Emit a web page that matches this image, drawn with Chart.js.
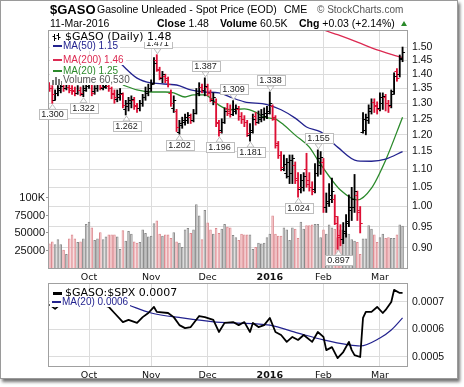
<!DOCTYPE html>
<html>
<head>
<meta charset="utf-8">
<script src="https://cdn.jsdelivr.net/npm/chart.js"></script>
<style>
body { margin: 0; background: #fff; }
#wrap { position: relative; width: 464px; height: 387px; overflow: hidden; background: #fff;
        font-family: "Liberation Sans", Arial, sans-serif; color: #000; }
#frame { position: absolute; left: 0; top: 0; width: 456px; height: 377px; border: 1px solid #9a9a9a;
         box-shadow: 2px 3px 3px rgba(0,0,0,.55); background: #fff; }
canvas { position: absolute; left: 0; }
.t { position: absolute; white-space: nowrap; line-height: 1; }
.lg { position: absolute; left: 50px; background: #fff; white-space: nowrap; padding-right: 2px; }
.dash { position: absolute; left: 3px; width: 9px; }
</style>
</head>
<body>
<div id="wrap">
  <div id="frame"></div>
  <canvas id="main" width="464" height="283" style="top:0"></canvas>
  <canvas id="ratio" width="464" height="117" style="top:270px"></canvas>

  <span class="t" style="left:50px;top:3.3px;font-weight:bold;font-size:13px">$GASO</span>
  <span class="t" style="left:97px;top:4.4px;font-size:10.5px">Gasoline Unleaded - Spot Price (EOD)</span>
  <span class="t" style="left:284px;top:4.4px;font-size:10.5px">CME</span>
  <span class="t" style="left:317px;top:4.8px;font-size:10px;color:#555">© StockCharts.com</span>

  <span class="t" style="left:50px;top:17.8px;font-size:10.5px">11-Mar-2016</span>
  <span class="t" style="left:157px;top:17.8px;font-size:10.5px"><b>Close</b> 1.48</span>
  <span class="t" style="left:220px;top:17.8px;font-size:10.5px"><b>Volume</b> 60.5K</span>
  <span class="t" style="left:299px;top:17.8px;font-size:10.5px"><b>Chg</b> +0.03 (+2.14%)</span>
  <div style="position:absolute;left:401px;top:21px;width:0;height:0;border-left:3px solid transparent;border-right:3px solid transparent;border-bottom:5px solid #2a8a2a"></div>

  <div class="lg" style="top:31.5px;height:10px;line-height:10px;font-family:'DejaVu Sans';font-size:11px;padding-left:15px">
    <svg style="position:absolute;left:2px;top:1px" width="9" height="9"><path d="M2.5 1v7M0.5 3.5h2M2.5 5.5h2M6.5 0v7M4.5 2.5h2M6.5 4.5h2" stroke="#000" stroke-width="1" fill="none"/></svg>$GASO (Daily) 1.48</div>
  <div class="lg" style="top:40.5px;height:10px;line-height:10px;font-size:10px;padding-left:13px;color:#23238f">
    <span class="dash" style="top:4px;height:2px;background:#23238f"></span>MA(50) 1.15</div>
  <div class="lg" style="top:54.8px;height:10px;line-height:10px;font-size:10px;padding-left:13px;color:#dc2a52">
    <span class="dash" style="top:4px;height:2px;background:#dc2a52"></span>MA(200) 1.46</div>
  <div class="lg" style="top:65.5px;height:10px;line-height:10px;font-size:10px;padding-left:13px;color:#2b8a2b">
    <span class="dash" style="top:4px;height:2px;background:#2b8a2b"></span>MA(20) 1.25</div>
  <div class="lg" style="top:74.8px;height:10px;line-height:10px;font-size:10px;padding-left:13px;color:#555">
    <svg style="position:absolute;left:2px;top:1px" width="10" height="9"><rect x="0" y="4" width="2" height="5" fill="#777"/><rect x="3" y="1" width="2" height="8" fill="#777"/><rect x="6" y="3" width="2" height="6" fill="#777"/><rect x="9" y="5" width="1" height="4" fill="#777"/></svg>Volume 60,530</div>

  <div class="lg" style="top:288px;height:10px;line-height:10px;font-family:'DejaVu Sans';font-size:11px;padding-left:15px">
    <span class="dash" style="top:4px;height:3px;background:#000"></span>$GASO:$SPX 0.0007</div>
  <div class="lg" style="top:296.5px;height:10px;line-height:10px;font-size:10px;padding-left:12px;color:#23238f">
    <span class="dash" style="left:2px;top:4px;height:2px;background:#23238f"></span>MA(20) 0.0006</div>
</div>

<script>
// time axis: trading days 11-Sep-2015 .. 11-Mar-2016, index 0..125
var monthStarts = [14, 36, 56, 78, 97, 117];
var monthLabels = ['Oct', 'Nov', 'Dec', '2016', 'Feb', 'Mar'];
var priceTicks = [0.90, 0.95, 1.00, 1.05, 1.10, 1.15, 1.20, 1.25, 1.30, 1.35, 1.40, 1.45, 1.50];
var volumeTicks = [25000, 50000, 75000, 100000];
var ratioTicks = [0.0005, 0.0006, 0.0007];

var prevClose = 1.365;
var opens = [
  1.36,1.35,1.31,1.335,1.345,1.365,1.35,1.355,1.35,1.345,
  1.335,1.345,1.33,1.345,1.36,1.365,1.34,1.35,1.365,1.35,
  1.355,1.36,1.35,1.33,1.315,1.32,1.33,1.28,1.29,1.30,
  1.31,1.29,1.285,1.30,1.32,1.335,1.35,1.37,1.45,1.415,
  1.385,1.395,1.38,1.335,1.285,1.275,1.21,1.23,1.24,1.245,
  1.255,1.245,1.27,1.335,1.355,1.345,1.355,1.335,1.31,1.305,
  1.235,1.215,1.24,1.285,1.275,1.265,1.275,1.28,1.26,1.25,
  1.24,1.20,1.21,1.26,1.24,1.25,1.255,1.26,1.27,1.29,
  1.25,1.17,1.14,1.10,1.09,1.08,1.09,1.11,1.07,1.045,
  1.05,1.10,1.07,1.05,1.045,1.09,1.11,1.12,1.00,1.01,
  1.02,1.02,0.96,0.93,0.92,0.935,0.96,0.99,1.00,1.03,
  0.985,1.21,1.215,1.245,1.275,1.305,1.295,1.285,1.30,1.32,
  1.30,1.295,1.34,1.41,1.40,1.455];
var highs = [
  1.37,1.36,1.345,1.36,1.37,1.375,1.37,1.365,1.36,1.355,
  1.36,1.355,1.36,1.375,1.385,1.37,1.36,1.375,1.375,1.37,
  1.375,1.37,1.355,1.345,1.345,1.35,1.335,1.31,1.32,1.325,
  1.32,1.30,1.31,1.33,1.355,1.365,1.38,1.46,1.471,1.425,
  1.41,1.40,1.39,1.345,1.325,1.28,1.245,1.255,1.265,1.27,
  1.265,1.28,1.35,1.37,1.365,1.387,1.365,1.345,1.335,1.315,
  1.245,1.25,1.285,1.30,1.295,1.309,1.295,1.29,1.27,1.26,
  1.245,1.235,1.265,1.27,1.275,1.28,1.285,1.29,1.338,1.295,
  1.26,1.18,1.15,1.14,1.13,1.14,1.14,1.12,1.09,1.085,
  1.09,1.145,1.09,1.065,1.115,1.155,1.15,1.13,1.035,1.06,
  1.075,1.03,0.975,0.955,0.96,0.98,1.03,1.05,1.085,1.04,
  1.00,1.27,1.265,1.295,1.315,1.315,1.305,1.335,1.335,1.33,
  1.31,1.345,1.405,1.42,1.47,1.50];
var lows = [
  1.34,1.30,1.31,1.325,1.335,1.34,1.345,1.335,1.33,1.325,
  1.33,1.325,1.322,1.34,1.35,1.325,1.33,1.34,1.345,1.345,
  1.35,1.34,1.315,1.30,1.305,1.31,1.285,1.262,1.275,1.285,
  1.28,1.27,1.275,1.29,1.31,1.325,1.34,1.365,1.41,1.38,
  1.37,1.37,1.355,1.29,1.27,1.21,1.202,1.22,1.23,1.235,
  1.235,1.24,1.265,1.325,1.335,1.325,1.325,1.305,1.295,1.225,
  1.196,1.205,1.235,1.26,1.255,1.26,1.265,1.245,1.235,1.225,
  1.195,1.181,1.205,1.23,1.235,1.24,1.245,1.25,1.265,1.245,
  1.16,1.13,1.095,1.095,1.075,1.06,1.06,1.06,1.024,1.035,
  1.04,1.05,1.04,1.03,1.035,1.08,1.085,0.985,0.985,1.00,
  1.01,0.955,0.897,0.905,0.91,0.925,0.95,0.965,0.985,0.965,
  0.935,1.205,1.20,1.235,1.265,1.27,1.265,1.275,1.28,1.275,
  1.27,1.285,1.33,1.375,1.39,1.445];
var closes = [
  1.35,1.33,1.335,1.35,1.36,1.35,1.355,1.345,1.34,1.335,
  1.345,1.335,1.35,1.365,1.37,1.335,1.35,1.365,1.355,1.36,
  1.365,1.35,1.335,1.32,1.33,1.335,1.295,1.30,1.31,1.315,
  1.295,1.285,1.30,1.32,1.34,1.35,1.365,1.44,1.42,1.39,
  1.40,1.385,1.365,1.30,1.31,1.225,1.235,1.245,1.255,1.262,
  1.245,1.27,1.335,1.355,1.345,1.36,1.335,1.315,1.32,1.24,
  1.21,1.24,1.275,1.27,1.265,1.28,1.285,1.26,1.25,1.24,
  1.205,1.215,1.25,1.24,1.255,1.265,1.27,1.275,1.30,1.255,
  1.175,1.14,1.105,1.115,1.12,1.125,1.13,1.075,1.05,1.07,
  1.08,1.06,1.05,1.04,1.09,1.13,1.135,1.00,1.015,1.03,
  1.04,0.975,0.925,0.92,0.94,0.965,1.00,1.02,1.04,0.99,
  0.96,1.25,1.255,1.285,1.305,1.29,1.28,1.32,1.325,1.30,
  1.29,1.33,1.395,1.385,1.46,1.48];
var volumes = [
  35000,38000,34000,41000,34000,26000,20000,42000,48000,42000,
  37000,38000,42000,63000,66000,58000,40000,42000,51000,41000,
  45000,48000,48000,48000,45000,27000,54000,39000,53000,49000,
  38000,36000,37000,55000,50000,45000,46000,64000,68000,49000,
  46000,48000,48000,43000,51000,38000,36000,30000,55000,57000,
  50000,55000,91000,75000,41000,83000,65000,55000,49000,57000,
  50000,56000,63000,59000,58000,47000,44000,40000,49000,48000,
  48000,48000,27000,30000,36000,35000,36000,44000,49000,75000,
  49000,46000,46000,58000,55000,40000,58000,56000,43000,66000,
  56000,61000,61000,62000,63000,63000,44000,55000,49000,62000,
  58000,56000,44000,55000,55000,50000,49000,41000,39000,37000,
  20000,42000,42000,61000,56000,48000,37000,44000,49000,43000,
  44000,43000,43000,48000,62000,60530];

// moving averages (day index, value)
var ma50Days = [25,31,36,45,50,55,60,64,69,77,82,87,91,96,102,109,114,119,125];
var ma50Values = [1.440,1.386,1.369,1.362,1.345,1.338,1.335,1.321,1.305,1.296,1.279,1.252,1.224,1.209,1.163,1.123,1.122,1.128,1.150];
var ma200Days = [88,93,97,102,109,116,121,125];
var ma200Values = [1.63,1.60,1.568,1.548,1.519,1.489,1.472,1.46];
var ma20Days = [26,31,36,41,44,48,51,55,57,60,64,69,73,76,80,83,87,92,95,99,103,109,114,119,125];
var ma20Values = [1.362,1.345,1.338,1.338,1.335,1.321,1.328,1.328,1.318,1.294,1.279,1.282,1.271,1.255,1.249,1.230,1.199,1.163,1.125,1.080,1.043,1.017,1.048,1.125,1.255];

// $GASO:$SPX ratio panel
var ratioDays = [0,2,4,10,16,21,23,26,28,31,33,35,37,38,42,44,46,48,50,53,55,58,60,62,65,67,69,71,72,74,76,78,80,82,84,86,88,90,93,95,97,98,100,102,104,106,107,108,110,111,112,114,116,118,119,121,122,124,125];
var ratioValues = [0.000691,0.000675,0.000693,0.00071,0.0007,0.000682,0.00066,0.000627,0.000635,0.000624,0.000645,0.00066,0.000682,0.000664,0.00066,0.000645,0.000616,0.000605,0.000609,0.000649,0.000645,0.000635,0.000591,0.000624,0.000627,0.000616,0.000627,0.000591,0.000624,0.000609,0.000616,0.000642,0.000591,0.00058,0.000555,0.000573,0.000562,0.00058,0.000555,0.000591,0.000573,0.000525,0.000536,0.000496,0.000518,0.000555,0.000525,0.000507,0.0005,0.000642,0.000664,0.000664,0.000682,0.00066,0.000671,0.0007,0.000744,0.000733,0.000733];
var ratioMaDays = [28,36,47,59,65,78,88,97,106,110,117,121,125];
var ratioMaValues = [0.000689,0.00066,0.000642,0.000627,0.000624,0.000616,0.000587,0.000562,0.000544,0.00054,0.000569,0.000598,0.000642];

// swing high / low labels
var labelDays = [1,12,27,38,46,55,60,65,71,78,88,95,102];
var labelSides = ['low','low','low','high','low','high','low','high','low','high','low','high','low'];

var days = closes.map(function(c, i) { return i; });
var isDown = closes.map(function(c, i) { return c < (i ? closes[i - 1] : prevClose); });
var barColor = isDown.map(function(d) { return d ? '#dd1035' : '#000000'; });
var volFill = isDown.map(function(d) { return d ? '#f3b7bb' : '#b7b7b7'; });
var volEdge = isDown.map(function(d) { return d ? '#dc8a90' : '#8a8a8a'; });

function pts(xs, ys) {
  return xs.map(function(x, k) { return {x: x, y: ys[k]}; });
}

var gridColor = '#dcdcdc';
var xAxisFont = function(c) {
  return {family: 'DejaVu Sans', size: 9.5, weight: (c.tick && c.tick.value === 78) ? 'bold' : 'normal'};
};
function xAxis(h) {
  return {
    type: 'linear', min: -0.16, max: 126.57, offset: false, bounds: 'data',
    afterBuildTicks: function(s) { s.ticks = monthStarts.map(function(v) { return {value: v}; }); },
    afterFit: function(s) { s.height = h; s.paddingLeft = 0; s.paddingRight = 0; },
    grid: {color: gridColor, drawTicks: false, offset: false},
    border: {display: false},
    ticks: {autoSkip: false, maxRotation: 0, padding: 4, color: '#111', font: xAxisFont,
      callback: function(v) { return monthLabels[monthStarts.indexOf(v)]; }}
  };
}

var framePlugin = {
  id: 'frame',
  afterDatasetsDraw: function(chart) {
    var a = chart.chartArea, ctx = chart.ctx;
    ctx.save();
    ctx.strokeStyle = '#a0a0a0';
    ctx.lineWidth = 1;
    ctx.strokeRect(Math.round(a.left) - 0.5, Math.round(a.top) - 0.5, Math.round(a.width) + 1, Math.round(a.height) + 1);
    ctx.restore();
  }
};

// open tick to the left, close tick to the right
var ohlcTicks = {
  id: 'ohlcTicks',
  afterDatasetsDraw: function(chart) {
    var a = chart.chartArea, ctx = chart.ctx, x = chart.scales.x, y = chart.scales.y;
    ctx.save();
    ctx.beginPath(); ctx.rect(a.left, a.top, a.width, a.height); ctx.clip();
    ctx.lineWidth = 1;
    days.forEach(function(i) {
      var px = x.getPixelForValue(i);
      var yo = Math.round(y.getPixelForValue(opens[i])) + 0.5;
      var yc = Math.round(y.getPixelForValue(closes[i])) + 0.5;
      ctx.strokeStyle = barColor[i];
      ctx.beginPath();
      ctx.moveTo(px - 2.5, yo); ctx.lineTo(px, yo);
      ctx.moveTo(px, yc); ctx.lineTo(px + 2.5, yc);
      ctx.stroke();
    });
    ctx.restore();
  }
};

var priceLabels = {
  id: 'priceLabels',
  afterDatasetsDraw: function(chart) {
    var ctx = chart.ctx, x = chart.scales.x, y = chart.scales.y;
    ctx.save();
    ctx.font = '9px "Liberation Sans", Arial';
    ctx.textAlign = 'center';
    ctx.textBaseline = 'middle';
    labelDays.forEach(function(i, k) {
      var low = labelSides[k] === 'low';
      var v = low ? lows[i] : highs[i];
      var txt = v.toFixed(3);
      var w = Math.round(ctx.measureText(txt).width) + 5, h = 10;
      var px = Math.round(x.getPixelForValue(i)) + 0.5;
      var py = y.getPixelForValue(v);
      var tip = low ? py + 1 : py - 1;
      var base = low ? tip + 5 : tip - 5;
      var top = low ? Math.round(base) + 0.5 : Math.round(base - h) - 0.5;
      ctx.fillStyle = '#fff';
      ctx.strokeStyle = '#bdbdbd';
      ctx.beginPath();
      ctx.moveTo(px - 3.5, base); ctx.lineTo(px, tip); ctx.lineTo(px + 3.5, base);
      ctx.closePath(); ctx.fill(); ctx.stroke();
      var left = Math.round(px - w / 2) + 0.5;
      ctx.fillRect(left, top, w, h);
      ctx.strokeRect(left, top, w, h);
      ctx.fillStyle = '#222';
      ctx.fillText(txt, px, top + h / 2 + 0.5);
    });
    ctx.restore();
  }
};

new Chart(document.getElementById('main'), {
  type: 'bar',
  data: {
    datasets: [
      {label: 'Volume', yAxisID: 'yv', order: 10, grouped: false,
       data: days.map(function(i) { return {x: i, y: volumes[i]}; }),
       backgroundColor: volFill, borderColor: volEdge, borderWidth: 1,
       categoryPercentage: 1, barPercentage: 0.92},
      {type: 'line', label: 'MA(200)', yAxisID: 'y', order: 5, data: pts(ma200Days, ma200Values),
       borderColor: '#dc2a52', borderWidth: 1.3, pointRadius: 0, cubicInterpolationMode: 'monotone'},
      {type: 'line', label: 'MA(50)', yAxisID: 'y', order: 5, data: pts(ma50Days, ma50Values),
       borderColor: '#23238f', borderWidth: 1.3, pointRadius: 0, cubicInterpolationMode: 'monotone'},
      {type: 'line', label: 'MA(20)', yAxisID: 'y', order: 5, data: pts(ma20Days, ma20Values),
       borderColor: '#2b8a2b', borderWidth: 1.3, pointRadius: 0, cubicInterpolationMode: 'monotone'},
      {label: '$GASO', yAxisID: 'y', order: 1, grouped: false,
       data: days.map(function(i) { return {x: i, y: [lows[i], highs[i]]}; }),
       backgroundColor: barColor, barThickness: 1.2}
    ]
  },
  options: {
    responsive: false, animation: false, events: [], devicePixelRatio: 1,
    layout: {padding: {top: 31, left: 0, right: 0, bottom: 0}},
    plugins: {legend: {display: false}, tooltip: {enabled: false}},
    scales: {
      x: xAxis(15),
      y: {
        type: 'logarithmic', position: 'right', min: 0.8553, max: 1.5624, bounds: 'data',
        afterBuildTicks: function(s) { s.ticks = priceTicks.map(function(v) { return {value: v}; }); },
        afterFit: function(s) { s.width = 57; s.paddingTop = 0; s.paddingBottom = 0; },
        grid: {color: gridColor, drawTicks: false},
        border: {display: false},
        ticks: {padding: 5, color: '#111', font: {family: 'Liberation Sans', size: 10.5},
          callback: function(v) { return v.toFixed(2); }}
      },
      yv: {
        type: 'linear', position: 'left', min: 0, max: 338571, bounds: 'data',
        afterBuildTicks: function(s) { s.ticks = volumeTicks.map(function(v) { return {value: v}; }); },
        afterFit: function(s) { s.width = 49; s.paddingTop = 0; s.paddingBottom = 0; },
        grid: {drawOnChartArea: false, drawTicks: true, tickLength: 3, color: '#999'},
        border: {display: false},
        ticks: {padding: 1, color: '#111', font: {family: 'Liberation Sans', size: 11},
          callback: function(v) { return v === 100000 ? '100K' : String(v); }}
      }
    }
  },
  plugins: [framePlugin, ohlcTicks, priceLabels]
});

new Chart(document.getElementById('ratio'), {
  type: 'line',
  data: {
    datasets: [
      {label: 'MA(20)', order: 2, data: pts(ratioMaDays, ratioMaValues),
       borderColor: '#23238f', borderWidth: 1.2, pointRadius: 0, cubicInterpolationMode: 'monotone'},
      {label: '$GASO:$SPX', order: 1, data: pts(ratioDays, ratioValues),
       borderColor: '#000', borderWidth: 1.8, pointRadius: 0, tension: 0, borderJoinStyle: 'round'}
    ]
  },
  options: {
    responsive: false, animation: false, events: [], devicePixelRatio: 1,
    layout: {padding: {top: 14, left: 49, right: 0, bottom: 0}},
    plugins: {legend: {display: false}, tooltip: {enabled: false}},
    scales: {
      x: xAxis(21),
      y: {
        type: 'linear', position: 'right', min: 0.00046727, max: 0.00076545, bounds: 'data',
        afterBuildTicks: function(s) { s.ticks = ratioTicks.map(function(v) { return {value: v}; }); },
        afterFit: function(s) { s.width = 57; s.paddingTop = 0; s.paddingBottom = 0; },
        grid: {color: gridColor, drawTicks: false},
        border: {display: false},
        ticks: {padding: 5, color: '#111', font: {family: 'Liberation Sans', size: 10.5},
          callback: function(v) { return v.toFixed(4); }}
      }
    }
  },
  plugins: [framePlugin]
});
</script>
</body>
</html>
